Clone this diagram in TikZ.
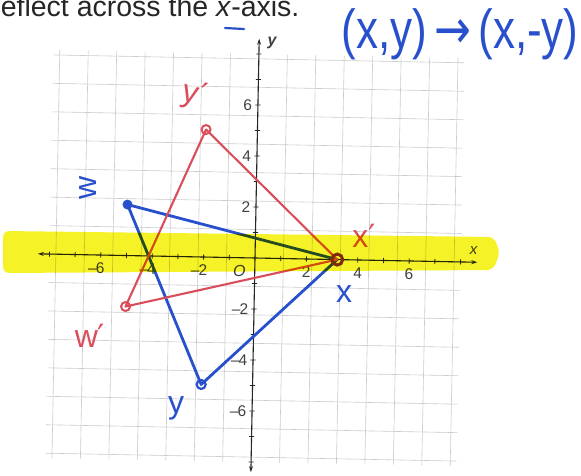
\documentclass[tikz,border=0pt]{standalone}
\usepackage{fontspec}
\setmainfont{Liberation Sans}
\newfontfamily\dejavu{DejaVu Sans}
\usetikzlibrary{arrows.meta}
\definecolor{penblue}{RGB}{40,80,205}
\definecolor{penred}{RGB}{218,78,92}
\definecolor{hilite}{RGB}{246,242,40}
\newcommand{\hprime}{{\dejavu\char"2032}}
\begin{document}
\begin{tikzpicture}[x=1pt,y=-1pt,
  gridline/.style={gray!40,line width=0.6pt},
  axisline/.style={black!85,line width=1.1pt,{Stealth[length=6pt,width=4pt]}-{Stealth[length=6pt,width=4pt]}},
  tickmark/.style={black!85,line width=0.8pt},
  ticklbl/.style={font=\fontsize{15.5}{15.5}\selectfont,text=black!75,inner sep=0pt},
  blueline/.style={penblue,line width=2.8pt,line cap=round,line join=round},
  redline/.style={penred,line width=2.1pt,line cap=round,line join=round},
  bluehand/.style={inner sep=0pt,text=penblue,font=\fontsize{32}{32}\selectfont},
  redhand/.style={inner sep=0pt,text=penred,font=\fontsize{32}{32}\selectfont}]
\useasboundingbox (0,0) rectangle (581,476);
\fill[white] (0,0) rectangle (581,476);
% title
\node[anchor=base west,inner sep=0pt,font=\fontsize{28.5}{28.5}\selectfont,text=black!85] (title) at (-20,17) {Reflect across the \textit{x}-axis.};
\coordinate (dashA) at (225,28);
\coordinate (dashB) at (244,29);
\draw[penblue,line width=2.2pt,line cap=round] (dashA) -- (dashB);
% handwritten rule
\node[inner sep=0pt,text=penblue,font=\fontsize{44}{44}\selectfont,yscale=1.25] (rule) at (460,34) {(x,y)\,{\dejavu →}\,(x,-y)};
% graph
\begin{scope}[shift={(255,258)},rotate=-1.1,x=25.7pt,y=25.5pt]
  \draw[gridline] (-8,-8) grid (8,8);
  \coordinate (xl) at (-8.45,0);
  \coordinate (xr) at (8.65,0);
  \coordinate (yb) at (0,-8.4);
  \coordinate (yt) at (0,8.6);
  \draw[axisline] (xl) -- (xr);
  \draw[axisline] (yb) -- (yt);
  \foreach \k in {-8,...,-1,1,2,...,8} {
    \draw[tickmark] (\k,-0.1) -- (\k,0.1);
    \draw[tickmark] (-0.1,\k) -- (0.1,\k);
  }
  \foreach \k in {-6,-4,-2} {
    \node[ticklbl,anchor=north] (xt\k) at (\k-0.17,-0.3) {\char"2013\kern-1pt\the\numexpr-\k\relax};
    \node[ticklbl,anchor=east] (yt\k) at (-0.22,\k) {\char"2013\kern-1pt\the\numexpr-\k\relax};
  }
  \foreach \k in {2,4,6} {
    \node[ticklbl,anchor=north] (xt\k) at (\k,-0.3) {\k};
    \node[ticklbl,anchor=east] (yt\k) at (-0.22,\k) {\k};
  }
  \node[ticklbl,anchor=north,font=\fontsize{16}{16}\selectfont\itshape] (orig) at (-0.6,-0.3) {O};
  \node[ticklbl,font=\fontsize{15}{15}\selectfont\itshape] (xlab) at (8.5,0.45) {x};
  \node[ticklbl,font=\fontsize{16}{16}\selectfont\bfseries\itshape] (ylab) at (0.5,8.45) {y};
  % points
  \coordinate (W) at (-5,2);
  \coordinate (X) at (3.2,0);
  \coordinate (Y) at (-2,-5);
  \coordinate (Wp) at (-5,-2);
  \coordinate (Yp) at (-2,5);
  \coordinate (Xp) at (3.2,0);
  \draw[blueline] (W) -- (X) -- (Y) -- cycle;
  \draw[redline] (Yp) -- (Xp) -- (Wp) -- cycle;
  \fill[penblue] (W) circle (5pt);
  \draw[penblue,line width=2.2pt] (Y) circle (4.5pt);
  \draw[penred,line width=2pt] (Yp) circle (4.5pt);
  \draw[penred,line width=2pt] (Wp) circle (4.5pt);
  \draw[penred!60!black,line width=3pt] (X) circle (5.5pt);
\end{scope}
% handwritten labels
\node[bluehand,rotate=90] (lW) at (88,188) {w};
\node[redhand,rotate=-15] (lYp) at (194,95) {y\hprime};
\node[redhand] (lXp) at (364,236) {x\hprime};
\node[bluehand] (lX) at (344,294) {x};
\node[redhand] (lWp) at (90,336) {w\hprime};
\node[bluehand] (lY) at (176,408) {y};
% highlighter
\fill[hilite,blend mode=multiply,rounded corners=6pt] (3,231) -- (494,237) -- (500,253) -- (493,270) -- (3,273) -- cycle;
\end{tikzpicture}
\end{document}
